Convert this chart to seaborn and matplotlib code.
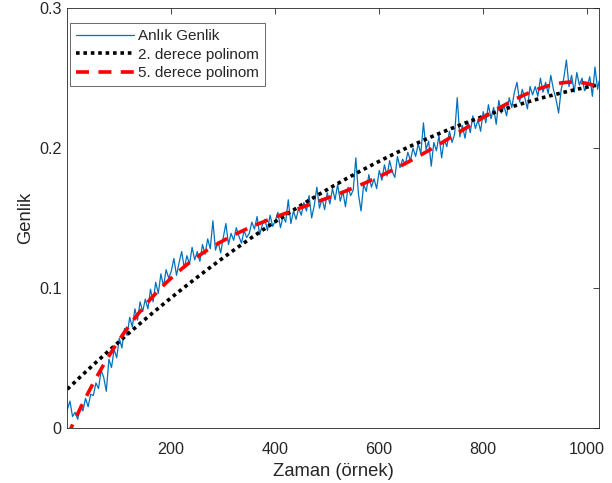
import numpy as np
import pandas as pd
import matplotlib
matplotlib.use("Agg")
import matplotlib.pyplot as plt
import seaborn as sns

# ---- data ----
sample_index = list(range(1, 1022, 5)) + [1024]
amplitude = [
    0.013, 0.019, 0.008, 0.011, 0.006, 0.016, 0.012, 0.021, 0.015, 0.024,
    0.023, 0.032, 0.028, 0.041, 0.036, 0.026, 0.049, 0.043, 0.056, 0.050,
    0.064, 0.057, 0.071, 0.066, 0.079, 0.072, 0.085, 0.077, 0.090, 0.083,
    0.092, 0.085, 0.099, 0.090, 0.104, 0.096, 0.110, 0.101, 0.113, 0.107,
    0.112, 0.121, 0.109, 0.118, 0.126, 0.114, 0.123, 0.117, 0.129, 0.120,
    0.126, 0.119, 0.131, 0.124, 0.135, 0.128, 0.148, 0.127, 0.133, 0.125,
    0.136, 0.146, 0.131, 0.139, 0.134, 0.143, 0.137, 0.132, 0.141, 0.136,
    0.139, 0.147, 0.142, 0.151, 0.138, 0.145, 0.149, 0.141, 0.152, 0.144,
    0.148, 0.154, 0.143, 0.151, 0.147, 0.163, 0.146, 0.155, 0.149, 0.157,
    0.152, 0.161, 0.155, 0.166, 0.150, 0.159, 0.172, 0.157, 0.164, 0.156,
    0.168, 0.160, 0.171, 0.163, 0.174, 0.162, 0.169, 0.158, 0.172, 0.166,
    0.170, 0.193, 0.167, 0.155, 0.174, 0.169, 0.181, 0.172, 0.178, 0.171,
    0.184, 0.177, 0.188, 0.180, 0.191, 0.183, 0.179, 0.194, 0.186, 0.192,
    0.188, 0.197, 0.191, 0.200, 0.194, 0.203, 0.196, 0.218, 0.199, 0.205,
    0.187, 0.204, 0.198, 0.209, 0.193, 0.206, 0.201, 0.212, 0.204, 0.210,
    0.236, 0.208, 0.216, 0.207, 0.219, 0.211, 0.223, 0.214, 0.220, 0.212,
    0.226, 0.218, 0.231, 0.221, 0.229, 0.217, 0.234, 0.225, 0.230, 0.223,
    0.236, 0.229, 0.240, 0.247, 0.233, 0.242, 0.236, 0.228, 0.244, 0.238,
    0.244, 0.237, 0.250, 0.240, 0.247, 0.239, 0.252, 0.242, 0.235, 0.225,
    0.242, 0.250, 0.263, 0.244, 0.252, 0.240, 0.254, 0.245, 0.250, 0.241,
    0.244, 0.251, 0.237, 0.258, 0.242, 0.248,
]
series_labels = ["Anlık Genlik", "2. derece polinom", "5. derece polinom"]
x_ticks = [200, 400, 600, 800, 1000]
y_ticks = [0, 0.1, 0.2, 0.3]
y_tick_labels = ["0", "0.1", "0.2", "0.3"]

x = np.array(sample_index, dtype=float)
y = np.array(amplitude)
xs = np.arange(1, 1025, dtype=float)
fit2 = np.polyval(np.polyfit(x, y, 2), xs)
fit5 = np.polyval(np.polyfit(x / 1024, y, 5), xs / 1024)

df_sig = pd.DataFrame({"x": x, "y": y})
df2 = pd.DataFrame({"x": xs, "y": fit2})
df5 = pd.DataFrame({"x": xs, "y": fit5})

# ---- style ----
sns.set_style("white")
plt.rcParams["font.family"] = ["Liberation Sans", "DejaVu Sans"]

fig = plt.figure(figsize=(6.12, 4.83), dpi=100)
ax = fig.add_axes([0.110, 0.1145, 0.869, 0.8685])

sns.lineplot(data=df_sig, x="x", y="y", ax=ax, color="#0072BD", lw=0.9,
             label=series_labels[0])
sns.lineplot(data=df2, x="x", y="y", ax=ax, color="black", lw=2.6,
             linestyle=(0, (1, 1.05)), label=series_labels[1])
sns.lineplot(data=df5, x="x", y="y", ax=ax, color="#FF0000", lw=2.6,
             linestyle=(0, (3.6, 2.6)), label=series_labels[2])

ax.set_xlim(1, 1024)
ax.set_ylim(0, 0.3)
ax.set_xticks(x_ticks)
ax.set_yticks(y_ticks)
ax.set_yticklabels(y_tick_labels)
ax.tick_params(direction="in", top=True, right=True, length=4, width=0.6,
               color="#262626", labelsize=11.6, labelcolor="#262626")
ax.tick_params(axis="x", pad=10.5)
ax.tick_params(axis="y", pad=4)
for s in ax.spines.values():
    s.set_color("#262626")
    s.set_linewidth(0.6)
ax.set_xlabel("Zaman (örnek)", fontsize=13.2, color="#262626", labelpad=4)
ax.set_ylabel("Genlik", fontsize=13.2, color="#262626", labelpad=4)

leg = ax.legend(loc="upper left", bbox_to_anchor=(0.005, 0.965),
                borderaxespad=0, fontsize=11, frameon=True, fancybox=False,
                handlelength=3.75, handletextpad=0.25, borderpad=0.42,
                labelspacing=0.28)
leg.get_frame().set_edgecolor("#262626")
leg.get_frame().set_linewidth(0.6)

fig.savefig("out.png", dpi=100)
